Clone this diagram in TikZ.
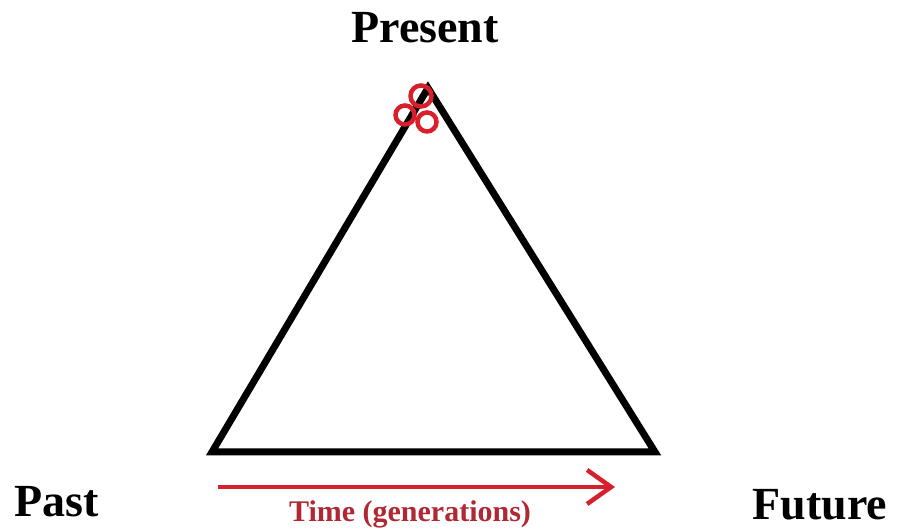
\documentclass[tikz,border=0pt]{standalone}
\usepackage{fontspec}
\setmainfont{Liberation Serif}
\usetikzlibrary{arrows.meta}
\definecolor{timered}{RGB}{216,32,44}
\definecolor{labelred}{RGB}{176,40,52}
\begin{document}
\begin{tikzpicture}[x=1pt, y=1pt,
    big/.style={font=\fontsize{46}{50}\selectfont\bfseries, anchor=base},
    ring/.style={draw=timered, line width=4.5pt}]
    \useasboundingbox (0, 0) rectangle (897, 529);

    % Corners of the triangle
    \coordinate (top) at (428, 441);
    \coordinate (left) at (212, 77);
    \coordinate (right) at (655, 77);

    % Draw the triangle
    \draw[line width=7pt, line join=miter] (left) -- (top) -- (right) -- cycle;

    % Three small rings at the top
    \draw[ring] (421, 433) circle (10.5);
    \draw[ring] (405, 414) circle (9.5);
    \draw[ring] (427, 407) circle (9.5);

    % Time arrow
    \coordinate (tstart) at (218, 42);
    \coordinate (tend) at (615, 42);
    \draw[timered, line width=4.5pt, -{Straight Barb[length=24pt, width=34pt]}] (tstart) -- (tend);

    % Labels
    \node[big] (present) at (425, 486) {Present};
    \node[big] (past) at (57, 12) {Past};
    \node[big] (future) at (820, 9) {Future};
    \node[labelred, font=\fontsize{30}{34}\selectfont\bfseries, anchor=base] (time) at (410, 7) {Time (generations)};
\end{tikzpicture}
\end{document}
